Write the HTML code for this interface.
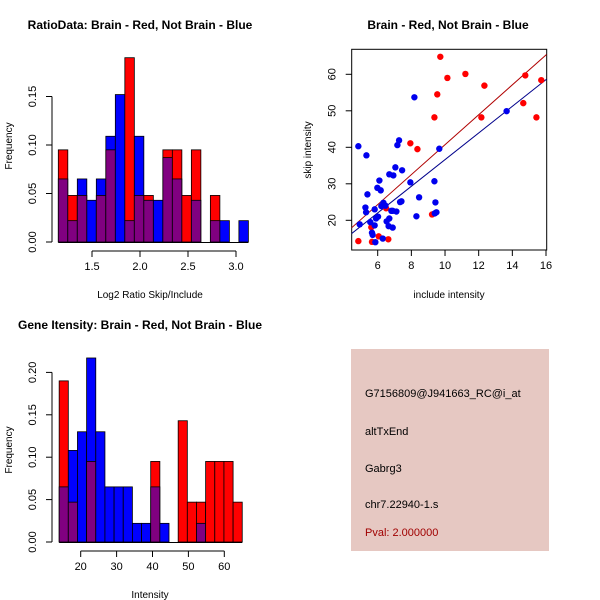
<!DOCTYPE html>
<html><head><meta charset="utf-8"><style>
body{margin:0;background:#fff}
svg{display:block;font-family:"Liberation Sans",sans-serif}
</style></head><body>
<svg id="c" width="600" height="600" viewBox="0 0 600 600">
<rect width="600" height="600" fill="#fff"/>
<text x="140" y="29" font-size="12" font-weight="bold" text-anchor="middle">RatioData: Brain - Red, Not Brain - Blue</text>
<text x="448" y="29" font-size="12" font-weight="bold" text-anchor="middle">Brain - Red, Not Brain - Blue</text>
<text x="140" y="329" font-size="12" font-weight="bold" text-anchor="middle">Gene Itensity: Brain - Red, Not Brain - Blue</text>
<text x="150" y="298" font-size="10" text-anchor="middle">Log2 Ratio Skip/Include</text>
<text x="150" y="598" font-size="10" text-anchor="middle">Intensity</text>
<text x="449" y="298" font-size="10" text-anchor="middle">include intensity</text>
<text transform="translate(12,146) rotate(-90)" font-size="10" text-anchor="middle">Frequency</text>
<text transform="translate(12,450) rotate(-90)" font-size="10" text-anchor="middle">Frequency</text>
<text transform="translate(311,150) rotate(-90)" font-size="10" text-anchor="middle">skip intensity</text>
<g id="h1"></g>
<g id="h2"></g>
<g id="sc"></g>
<g>
<rect x="351" y="349" width="198" height="202" fill="#e6c8c2"/>
<text x="365" y="397" font-size="11">G7156809@J941663_RC@i_at</text>
<text x="365" y="435" font-size="11">altTxEnd</text>
<text x="365" y="472" font-size="11">Gabrg3</text>
<text x="365" y="508" font-size="11">chr7.22940-1.s</text>
<text x="365" y="536" font-size="11" fill="#a00000">Pval: 2.000000</text>
</g>
</svg>
<script>
// Ratio histogram data
const h1Red=[.095,.048,.048,0,.048,.095,0,.19,.048,.048,0,.095,.095,.048,.095,0,.048,0,0,0];
const h1Blue=[.065,.022,.065,.043,.065,.109,.152,.022,.109,.043,.043,.087,.065,0,.043,0,.022,.022,0,.022];
const h1Start=[1.149];const h1Width=[0.099];
const h1XTicks=[1.5,2.0,2.5,3.0];const h1XLabels=["1.5","2.0","2.5","3.0"];
const h1YTicks=[0,0.05,0.10,0.15];const h1YLabels=["0.00","0.05","0.10","0.15"];
// Intensity histogram data
const h2Red=[.19,.047,0,.095,0,0,0,0,0,0,.095,0,0,.143,.047,.047,.095,.095,.095,.047];
const h2Blue=[.065,.108,.13,.217,.13,.065,.065,.065,.022,.022,.065,.022,0,0,0,.022,0,0,0,0];
const h2Start=[14.0];const h2Width=[2.55];
const h2XTicks=[20,30,40,50,60];const h2XLabels=["20","30","40","50","60"];
const h2YTicks=[0,0.05,0.10,0.15,0.20];const h2YLabels=["0.00","0.05","0.10","0.15","0.20"];
// Scatter data
const redX=[4.85,9.72,10.14,11.21,12.34,9.54,9.37,12.16,14.77,14.65,15.43,15.72,7.94,8.36,9.23,5.62,5.66,6.06,6.63,6.5];
const redY=[14.3,64.8,59.0,60.1,56.9,54.5,48.2,48.2,59.7,52.1,48.2,58.4,41.1,39.5,21.6,18.1,14.1,15.6,14.8,23.3];
const blueX=[4.85,5.33,5.39,5.27,5.31,4.93,5.56,5.82,5.66,5.70,5.82,5.86,5.90,6.02,5.98,6.10,6.18,6.22,6.34,6.46,6.30,6.53,6.69,6.65,6.89,6.81,6.89,7.11,6.69,6.93,7.05,7.17,7.27,7.45,7.33,7.41,7.94,8.18,8.30,8.46,9.37,9.43,9.39,9.49,9.66,13.66];
const blueY=[40.3,37.8,27.1,23.5,22.2,18.9,19.5,23.0,16.6,16.0,18.6,14.0,20.5,21.0,28.9,30.9,28.2,23.9,24.8,24.0,15.0,19.7,20.5,18.4,18.0,22.6,22.6,22.4,32.6,32.3,34.5,40.6,41.9,33.7,25.0,25.2,30.4,53.7,21.1,26.3,30.7,24.9,21.9,22.2,39.6,49.9];
const redFit=[-0.29,4.10];const blueFit=[0.12,3.65];
const scXTicks=[6,8,10,12,14,16];const scXLabels=["6","8","10","12","14","16"];
const scYTicks=[20,30,40,50,60];const scYLabels=["20","30","40","50","60"];

const NS="http://www.w3.org/2000/svg";
function mk(p,t,a){const e=document.createElementNS(NS,t);for(const k in a)e.setAttribute(k,a[k]);p.appendChild(e);return e;}

function hist(g,red,blue,start,w,xs,xl,ys,yl,X,Y,base,left,xAxisY,prefix){
  const n=red.length;
  for(let i=0;i<n;i++){
    const x0=X(start+i*w),x1=X(start+(i+1)*w);
    const lo=Math.min(red[i],blue[i]),hi=Math.max(red[i],blue[i]);
    if(hi>0){
      const col=red[i]>=blue[i]?"#ff0000":"#0000ff";
      const r=mk(g,"rect",{x:x0,y:Y(hi),width:x1-x0,height:base-Y(hi),fill:col,stroke:"#000","stroke-width":0.8});
      
      
    }
    if(lo>0){
      const r=mk(g,"rect",{x:x0,y:Y(lo),width:x1-x0,height:base-Y(lo),fill:"#800080",stroke:"#000","stroke-width":0.8});
      
      
    }
  }
  mk(g,"line",{x1:X(start),x2:X(start+n*w),y1:base+0.5,y2:base+0.5,stroke:"#000"});
  mk(g,"line",{x1:X(xs[0]),x2:X(xs[xs.length-1]),y1:xAxisY,y2:xAxisY,stroke:"#000"});
  xs.forEach((v,i)=>{mk(g,"line",{x1:X(v),x2:X(v),y1:xAxisY,y2:xAxisY+6,stroke:"#000"});
    const t=mk(g,"text",{x:X(v),y:xAxisY+19,"font-size":11,"text-anchor":"middle"});t.textContent=xl[i];
    
    });
  mk(g,"line",{x1:left,x2:left,y1:Y(ys[0]),y2:Y(ys[ys.length-1]),stroke:"#000"});
  ys.forEach((v,i)=>{mk(g,"line",{x1:left-6,x2:left,y1:Y(v),y2:Y(v),stroke:"#000"});
    const t=mk(g,"text",{transform:`translate(${left-16},${Y(v)}) rotate(-90)`,"font-size":11,"text-anchor":"middle"});t.textContent=yl[i];
    
    });
}
hist(document.getElementById("h1"),h1Red,h1Blue,h1Start[0],h1Width[0],h1XTicks,h1XLabels,h1YTicks,h1YLabels,
  v=>92+(v-1.5)*96, v=>242-v*970, 242, 52, 251,'ratio-hist');
hist(document.getElementById("h2"),h2Red,h2Blue,h2Start[0],h2Width[0],h2XTicks,h2XLabels,h2YTicks,h2YLabels,
  v=>80.7+(v-20)*3.59, v=>542-v*848, 542, 52, 551,'intensity-hist');

(function(){
  const g=document.getElementById("sc");
  const X=v=>377.7+(v-6)*16.83, Y=v=>220.3-(v-20)*3.65;
  const x0=351.7,x1=546.7,y0=49.3,y1=250;
  mk(g,"rect",{x:x0,y:y0,width:x1-x0,height:y1-y0,fill:"none",stroke:"#000"});
  const xmin=4.44,xmax=16.04;
  const cp=mk(g,"clipPath",{id:"cp"});mk(cp,"rect",{x:x0,y:y0,width:x1-x0,height:y1-y0});
  [[blueFit,"#00008b","not-brain"],[redFit,"#b00000","brain"]].forEach(([f,c,n])=>{
    const l=mk(g,"line",{x1:X(xmin),y1:Y(f[0]+f[1]*xmin),x2:X(xmax),y2:Y(f[0]+f[1]*xmax),stroke:c,"stroke-width":1,"clip-path":"url(#cp)"});
    
    
  });
  redX.forEach((v,i)=>{const c=mk(g,"circle",{cx:X(v),cy:Y(redY[i]),r:3.2,fill:"#ff0000"});
    
    });
  blueX.forEach((v,i)=>{const c=mk(g,"circle",{cx:X(v),cy:Y(blueY[i]),r:3.2,fill:"#0000ee"});
    
    });
  scXTicks.forEach((v,i)=>{mk(g,"line",{x1:X(v),x2:X(v),y1:y1,y2:y1+6,stroke:"#000"});
    const t=mk(g,"text",{x:X(v),y:y1+19,"font-size":11,"text-anchor":"middle"});t.textContent=scXLabels[i];
    
    });
  scYTicks.forEach((v,i)=>{mk(g,"line",{x1:x0-6,x2:x0,y1:Y(v),y2:Y(v),stroke:"#000"});
    const t=mk(g,"text",{transform:`translate(${x0-16},${Y(v)}) rotate(-90)`,"font-size":11,"text-anchor":"middle"});t.textContent=scYLabels[i];
    
    });
})();
</script>
</body></html>
